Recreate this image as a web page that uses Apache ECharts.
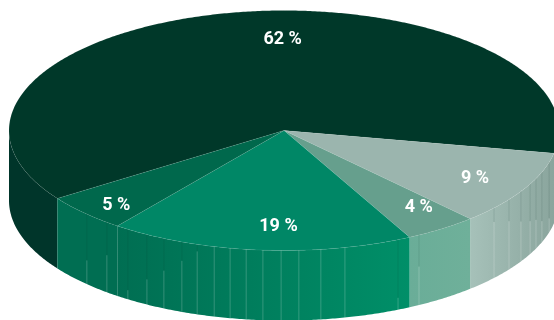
<!DOCTYPE html>
<html>
<head>
<meta charset="utf-8">
<style>html,body{margin:0;padding:0;background:#fff}#chart{width:554px;height:320px}</style>
<script src="https://cdn.jsdelivr.net/npm/echarts@6/dist/echarts.min.js"></script>
</head>
<body>
<div id="chart"></div>
<script>
// Share of each slice, clockwise from the large dark slice
const sliceValues = [62, 9, 4, 19, 5];
const sliceLabels = ['62 %', '9 %', '4 %', '19 %', '5 %'];
const topColors = ['#003829', '#9BB5AE', '#669F8D', '#008766', '#00684C'];
const wallLeftColors = ['#00352A', '#8AA59D', '#6FB09A', '#006E52', '#006E52'];
const wallRightColors = ['#00352A', '#A6C1B9', '#6AAD98', '#008F68', '#006E52'];
// Where each label sits, as a fraction of the two radii from the centre
const labelOffsetX = [-0.005, 0.695, 0.49, -0.02, -0.61];
const labelOffsetY = [-0.755, 0.403, 0.643, 0.798, 0.628];
// Facet seams on the rim: angle in degrees, and how far down the pale part begins
const seamAngles = [135.8, 130.1, 124.6, 119.9, 115.9, 111.8, 108.4, 104.7, 101.3, 97.9, 94.4, 90.6, 86.9, 82.3, 77.2, 65.5, 60.6, 40.2, 35.1, 30.5, 26.5, 23.6, 20.3, 15.4];
const seamStarts = [0.66, 0.47, 0.87, 0.64, 0.46, 0.27, 0.1, 0, 0, 0, 0, 0, 0, 0, 0, 0.83, 0.45, 0.2, 0.31, 0.43, 0.53, 0.59, 0.7, 0.8];

const CX = 284, CY = 130.5, RX = 275, RY = 120, DEPTH = 70, START = 145.5;
const VIEW_SPAN = 116, VIEW_STRETCH = 4.8;
const total = sliceValues.reduce((a, b) => a + b, 0);
const nearStart = START + sliceValues[0] / total * 360;
const rad = d => d * Math.PI / 180;
const rim = (deg, drop) => [CX + RX * Math.cos(rad(deg)), CY + RY * Math.sin(rad(deg)) + (drop || 0)];

// The oblique view stretches the near-right stretch of the rim a little
function viewAngle(a) {
  const t = (a - nearStart) / VIEW_SPAN;
  return t > 0 && t < 1 ? a + VIEW_STRETCH * Math.sin(Math.PI * t) : a;
}

function arc(from, to, drop) {
  const pts = [];
  const n = Math.max(2, Math.ceil(Math.abs(to - from) / 0.5));
  for (let i = 0; i <= n; i++) pts.push(rim(from + (to - from) * i / n, drop));
  return pts;
}

// The rim only shows along the near half of the ellipse
function frontSpans(a0, a1) {
  const spans = [];
  [0, 360].forEach(base => {
    const s = Math.max(a0, base), e = Math.min(a1, base + 180);
    if (e > s) spans.push([s, e]);
  });
  return spans;
}

function renderSlice(params, api) {
  const i = params.dataIndex;
  let before = 0;
  for (let k = 0; k < i; k++) before += sliceValues[k];
  const raw0 = START + before / total * 360;
  const a0 = viewAngle(raw0);
  const a1 = viewAngle(raw0 + api.value(0) / total * 360);
  const children = [];
  frontSpans(a0, a1).forEach(([s, e]) => {
    const upper = arc(s, e, 0), lower = arc(e, s, DEPTH);
    children.push({
      type: 'polygon',
      shape: { points: upper.concat(lower) },
      style: {
        fill: {
          type: 'linear', x: 0, y: 0, x2: 1, y2: 0,
          colorStops: [
            { offset: 0, color: i === 1 || i === 2 ? wallRightColors[i] : wallLeftColors[i] },
            { offset: 1, color: i === 1 || i === 2 ? wallLeftColors[i] : wallRightColors[i] }
          ]
        }
      }
    });
  });
  children.push({
    type: 'polygon',
    shape: { points: [[CX, CY]].concat(arc(a0, a1, 0)) },
    style: { fill: topColors[i], stroke: 'rgba(255,255,255,0.12)', lineWidth: 0.6 }
  });
  const t = [CX + RX * labelOffsetX[i], CY + RY * labelOffsetY[i]];
  children.push({
    type: 'text',
    z2: 10,
    style: {
      x: t[0], y: t[1], text: sliceLabels[i], fill: '#fff',
      font: 'bold 18px Roboto', align: 'center', verticalAlign: 'middle'
    }
  });
  return { type: 'group', children };
}

function renderSeam(params, api) {
  const angle = api.value(0), start = api.value(1);
  const top = rim(angle, 0), bottom = rim(angle, DEPTH);
  const mid = rim(angle, DEPTH * start);
  const children = [{
    type: 'line',
    shape: { x1: mid[0], y1: mid[1], x2: bottom[0], y2: bottom[1] },
    style: { stroke: 'rgba(255,255,255,0.26)', lineWidth: 0.8 }
  }];
  if (start > 0) {
    children.push({
      type: 'line',
      shape: { x1: top[0], y1: top[1], x2: mid[0], y2: mid[1] },
      style: { stroke: 'rgba(0,50,38,0.14)', lineWidth: 0.8 }
    });
  }
  return { type: 'group', children };
}

const chart = echarts.init(document.getElementById('chart'), null, { renderer: 'canvas' });
chart.setOption({
  animation: false,
  backgroundColor: '#fff',
  series: [
    {
      type: 'custom',
      coordinateSystem: 'none',
      renderItem: renderSlice,
      data: sliceValues.map(v => [v]),
      silent: true,
      z: 1
    },
    {
      type: 'custom',
      coordinateSystem: 'none',
      renderItem: renderSeam,
      data: seamAngles.map((a, i) => [a, seamStarts[i]]),
      silent: true,
      z: 2
    }
  ]
});
</script>
</body>
</html>
